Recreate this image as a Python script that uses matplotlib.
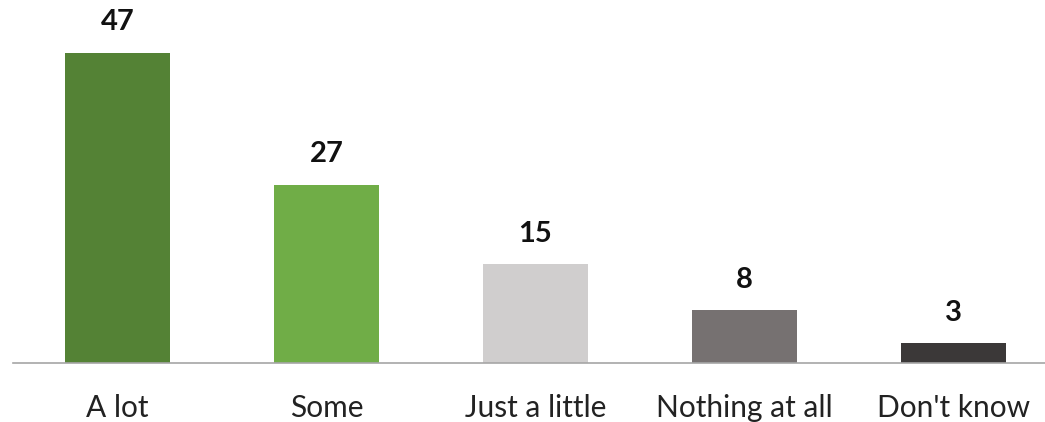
import matplotlib
matplotlib.use("Agg")
import matplotlib.pyplot as plt

categories = ["A lot", "Some", "Just a little", "Nothing at all", "Don't know"]
values = [47, 27, 15, 8, 3]
colors = ["#548235", "#70AD47", "#D0CECE", "#767171", "#3B3838"]

plt.rcParams['font.family'] = ['Lato', 'DejaVu Sans']

fig = plt.figure(figsize=(10.45, 4.22), dpi=100)
ax = fig.add_axes([13/1045, 1 - 363/422, 1032/1045, 330/422])
x = list(range(len(categories)))
ax.bar(x, values, width=0.502, color=colors)
ax.set_xlim(-0.5, -0.5 + 1032/209)
ax.set_ylim(0, 50)
for xi, v in zip(x, values):
    ax.annotate(str(v), (xi, v), xytext=(0, 12.5), textcoords='offset points',
                ha='center', va='bottom', fontsize=21, fontweight='bold', color='#111111')
ax.set_xticks(x)
ax.set_xticklabels(categories, fontsize=21.5, color='#222222')
ax.tick_params(axis='x', length=0, pad=22)
ax.set_yticks([])
for s in ['top', 'right', 'left']:
    ax.spines[s].set_visible(False)
ax.spines['bottom'].set_color('#A6A6A6')
ax.spines['bottom'].set_linewidth(1.2)
fig.savefig("out.png", dpi=100)
